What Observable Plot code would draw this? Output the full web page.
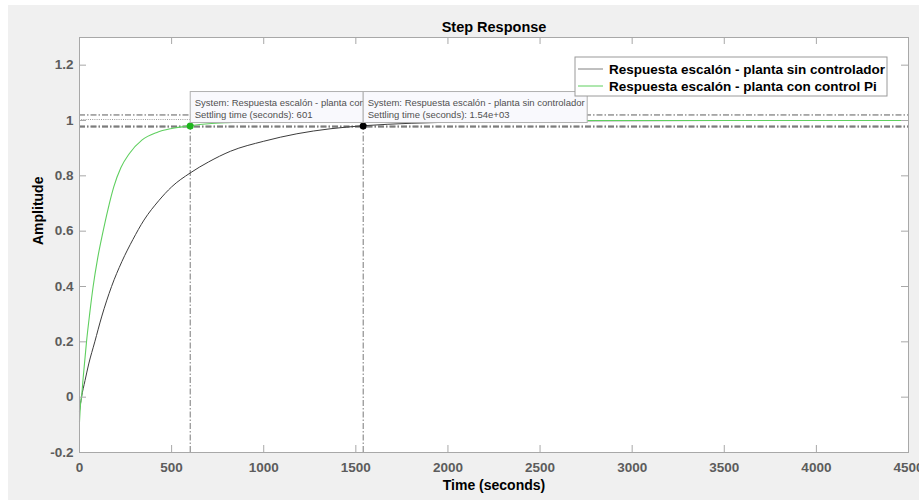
<!DOCTYPE html>
<html><head><meta charset="utf-8">
<script src="https://cdn.jsdelivr.net/npm/d3@7"></script>
<script src="https://cdn.jsdelivr.net/npm/@observablehq/plot@0.6"></script>
<style>
body{margin:0;background:#fff;}
#wrap{position:relative;width:919px;height:500px;overflow:hidden;}
#bg{position:absolute;left:8px;top:5px;right:0;bottom:0;background:#f0f0f0;}
#chart{position:absolute;left:0;top:0;}
</style></head><body><div id="wrap"><div id="bg"></div><div id="chart"></div></div>
<script>
// ---- data ----
const title = "Step Response";
const xLabel = "Time (seconds)";
const yLabel = "Amplitude";
const seriesNames = ["Respuesta escalón - planta sin controlador", "Respuesta escalón - planta con control Pi"];
const seriesColors = ["#3c3c3c", "#5fcf5f"];
const tSin = [0, 11, 30, 50, 83, 120, 174, 230, 290, 350, 430, 500, 600, 700, 820, 1000, 1180, 1360, 1540, 1800, 2200, 2800, 3500, 4500];
const ySin = [-0.05, 0.0, 0.06, 0.12, 0.20, 0.29, 0.40, 0.49, 0.57, 0.64, 0.71, 0.76, 0.81, 0.85, 0.889, 0.925, 0.952, 0.97, 0.981, 0.99, 0.996, 0.999, 1.0, 1.0];
const tPi = [0, 5, 11, 20, 38, 55, 74, 98, 125, 155, 186, 225, 270, 340, 420, 500, 601, 700, 800, 1000, 1300, 1700, 2500, 4500];
const yPi = [-0.09, -0.03, 0.0, 0.07, 0.20, 0.30, 0.40, 0.50, 0.59, 0.68, 0.76, 0.83, 0.88, 0.93, 0.957, 0.971, 0.981, 0.988, 0.992, 0.996, 0.999, 1.0, 1.0, 1.0];
const xTicks = [0, 500, 1000, 1500, 2000, 2500, 3000, 3500, 4000, 4500];
const yTicks = [-0.2, 0, 0.2, 0.4, 0.6, 0.8, 1, 1.2];
const settlingTimes = [1540, 601];           // sin controlador, con control Pi
const settlingLabels = ["1.54e+03", "601"];
const settlingBand = [0.98, 1.02];
const finalValue = 1;
const pointColors = ["#000000", "#1db51d"];
// visible part of each data tip's first line (the Pi tip is partly hidden behind the other one)
const tipSystemText = ["System: Respuesta escalón - planta sin controlador", "System: Respuesta escalón - planta con"];

// ---- layout ----
const W = 919, H = 500, mL = 79, mR = 11, mT = 37, mB = 48;
const innerW = W - mL - mR, innerH = H - mT - mB;
const font = "Liberation Sans, Arial, Helvetica, sans-serif";
const sinData = tSin.map((t, i) => ({t, y: ySin[i]}));
const piData = tPi.map((t, i) => ({t, y: yPi[i]}));
const pts = settlingTimes.map((t, i) => ({t, y: settlingBand[0], c: pointColors[i]}));
const fmtY = d => d === 0 ? "0" : String(+d.toFixed(1));
const dashDot = "6,2,1.5,2";
const axisGray = "#a8a8a8";
const labelGray = "#5c5c5c";

const chart = Plot.plot({
  width: W, height: H,
  marginLeft: mL, marginRight: mR, marginTop: mT, marginBottom: mB,
  style: {background: "transparent", fontFamily: font},
  x: {domain: [0, 4500], axis: null},
  y: {domain: [-0.2, 1.3], axis: null},
  marks: [
    Plot.frame({fill: "white", stroke: null}),
    Plot.ruleY(settlingBand, {stroke: "#333", strokeWidth: 0.8, strokeDasharray: dashDot}),
    Plot.ruleY([settlingBand[0]], {stroke: "#333", strokeWidth: 0.8, strokeDasharray: dashDot, dy: 1}),
    Plot.ruleY([finalValue], {x1: 0, x2: settlingTimes[1], stroke: "#9a9a9a", strokeWidth: 1, strokeDasharray: "1,1.2", dy: -1}),
    Plot.ruleX(settlingTimes, {y1: -0.2, y2: settlingBand[0], stroke: "#555", strokeWidth: 0.8, strokeDasharray: dashDot}),
    Plot.line(sinData, {x: "t", y: "y", stroke: seriesColors[0], strokeWidth: 1, curve: "monotone-x"}),
    Plot.line(piData, {x: "t", y: "y", stroke: seriesColors[1], strokeWidth: 1.1, curve: "monotone-x"}),
    Plot.dot(pts, {x: "t", y: "y", fill: "c", r: 3.5}),
    Plot.frame({stroke: axisGray}),
    Plot.tickX(xTicks, {x: d => d, insetTop: innerH - 7, stroke: axisGray}),
    Plot.tickX(xTicks, {x: d => d, insetBottom: innerH - 7, stroke: axisGray}),
    Plot.tickY(yTicks, {y: d => d, insetRight: innerW - 7, stroke: axisGray}),
    Plot.tickY(yTicks, {y: d => d, insetLeft: innerW - 7, stroke: axisGray}),
    Plot.text(xTicks, {x: d => d, frameAnchor: "bottom", lineAnchor: "top", dy: 10, text: d => String(d),
      fill: labelGray, fontWeight: "bold", fontSize: 13.5}),
    Plot.text(yTicks, {y: d => d, frameAnchor: "left", textAnchor: "end", dx: -6, text: fmtY,
      fill: labelGray, fontWeight: "bold", fontSize: 13.5}),
    Plot.text([title], {frameAnchor: "top", lineAnchor: "middle", dy: -10, fontWeight: "bold", fontSize: 14.5, fill: "#000"}),
    Plot.text([xLabel], {frameAnchor: "bottom", lineAnchor: "middle", dy: 33, fontWeight: "bold", fontSize: 14, fill: "#000"}),
    Plot.text([yLabel], {frameAnchor: "left", rotate: -90, dx: -41, fontWeight: "bold", fontSize: 14, fill: "#000"})
  ]
});
document.getElementById("chart").appendChild(chart);

// ---- overlays: data tips and legend ----
const xs = chart.scale("x"), ys = chart.scale("y");
const svg = d3.select(chart);
const g = svg.append("g").attr("font-family", font).attr("text-anchor", "start");

// data tips (con control Pi first, then sin controlador on top)
const tips = [
  {i: 1, w: 173, lines: [tipSystemText[1], "Settling time (seconds): " + settlingLabels[1]]},
  {i: 0, w: 224, lines: [tipSystemText[0], "Settling time (seconds): " + settlingLabels[0]]}
];
for (const tp of tips) {
  const px = xs.apply(settlingTimes[tp.i]), py = ys.apply(settlingBand[0]);
  const top = py - 34;
  const tg = g.append("g");
  tg.append("rect").attr("x", px + 0.5).attr("y", top).attr("width", tp.w).attr("height", 31)
    .attr("fill", "#f9f9fd").attr("stroke", "#b0b0b0").attr("stroke-width", 1);
  tp.lines.forEach((s, k) => {
    tg.append("text").attr("x", px + 5).attr("y", top + 14 + k * 12).attr("font-size", 9.5)
      .attr("text-anchor", "start").attr("fill", "#505050").text(s);
  });
}

// legend
const lx = mL + innerW - 21 - 312, ly = mT + 20;
const lg = g.append("g");
lg.append("rect").attr("x", lx).attr("y", ly).attr("width", 312).attr("height", 39)
  .attr("fill", "white").attr("stroke", "#9a9a9a").attr("stroke-width", 1);
seriesNames.forEach((s, k) => {
  const cy = ly + 12 + k * 17;
  lg.append("line").attr("x1", lx + 3).attr("x2", lx + 28).attr("y1", cy).attr("y2", cy)
    .attr("stroke", k === 0 ? "#808080" : seriesColors[1]).attr("stroke-width", 1);
  lg.append("text").attr("x", lx + 34).attr("y", cy).attr("dy", "0.35em").attr("font-size", 13.5)
    .attr("text-anchor", "start").attr("font-weight", "bold").attr("fill", "#000").text(s);
});
</script>
</body></html>
